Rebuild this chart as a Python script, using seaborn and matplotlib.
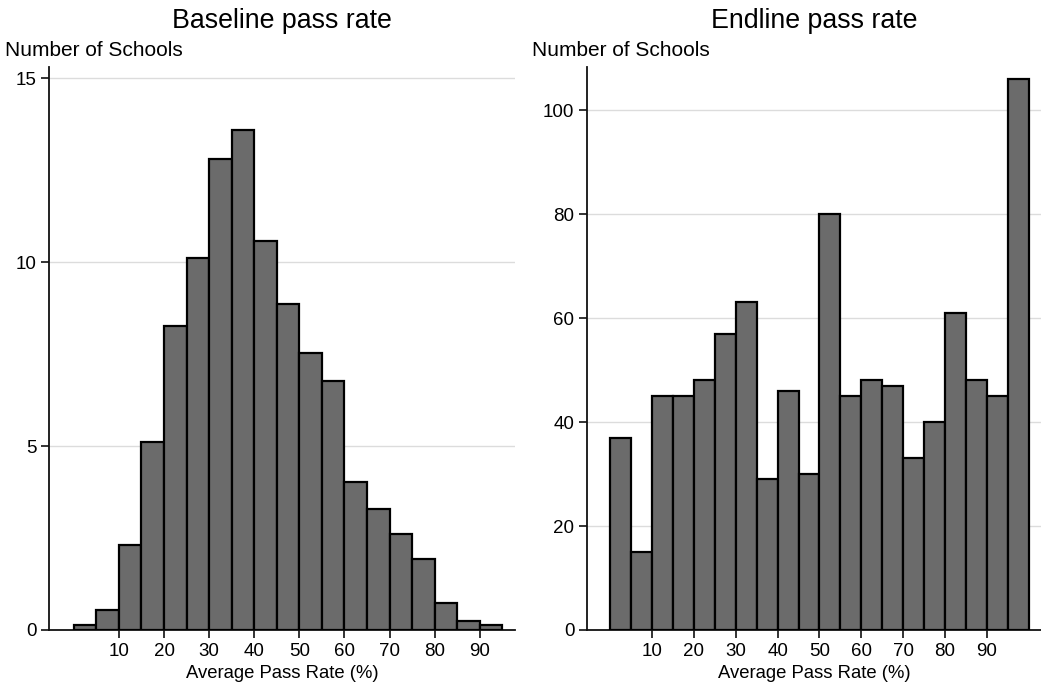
import numpy as np
import pandas as pd
import matplotlib
matplotlib.use("Agg")
import matplotlib.pyplot as plt
import seaborn as sns

# ---- data ----
baseline_bin_start = [0, 5, 10, 15, 20, 25, 30, 35, 40, 45, 50, 55, 60, 65, 70, 75, 80, 85, 90]
baseline_counts = [0.13, 0.55, 2.3, 5.1, 8.25, 10.1, 12.8, 13.6, 10.57, 8.85, 7.52,
                   6.77, 4.03, 3.3, 2.6, 1.93, 0.74, 0.24, 0.14]

endline_bin_start = [0, 5, 10, 15, 20, 25, 30, 35, 40, 45, 50, 55, 60, 65, 70, 75, 80, 85, 90, 95]
endline_counts = [37, 15, 45, 45, 48, 57, 63, 29, 46, 30, 80, 45, 48, 47, 33, 40, 61, 48, 45, 106]

bin_width = 5
x_ticks = [10, 20, 30, 40, 50, 60, 70, 80, 90]
baseline_yticks = [0, 5, 10, 15]
endline_yticks = [0, 20, 40, 60, 80, 100]

titles = ["Baseline pass rate", "Endline pass rate"]
y_label = "Number of Schools"
x_label = "Average Pass Rate (%)"

# ---- style ----
sns.set_style("white")
plt.rcParams["font.family"] = ["Liberation Sans", "DejaVu Sans"]
plt.rcParams["text.color"] = "black"
plt.rcParams["axes.labelcolor"] = "black"
plt.rcParams["xtick.color"] = "black"
plt.rcParams["ytick.color"] = "black"

W, H = 1041, 686
fig = plt.figure(figsize=(W / 100, H / 100), dpi=100)

def px_axes(x0, y0, x1, y1):
    return fig.add_axes([x0 / W, 1 - y1 / H, (x1 - x0) / W, (y1 - y0) / H])

ax1 = px_axes(49, 67, 515, 630)
ax2 = px_axes(587, 67, 1041, 630)

panels = [
    (ax1, baseline_bin_start, baseline_counts, baseline_yticks, (-5.5, 97.8), 15.3),
    (ax2, endline_bin_start, endline_counts, endline_yticks, (-5.5, 102.9), 108.3),
]

for (ax, starts, counts, yticks, xlim, ytop), title in zip(panels, titles):
    df = pd.DataFrame({"mid": np.asarray(starts) + bin_width / 2, "count": counts})
    edges = list(starts) + [starts[-1] + bin_width]
    sns.histplot(data=df, x="mid", weights="count", bins=edges, ax=ax,
                 color="#6b6b6b", alpha=1.0, edgecolor="black", linewidth=1.6,
                 zorder=3)
    ax.set_xlim(*xlim)
    ax.set_ylim(0, ytop)
    ax.set_xticks(x_ticks)
    ax.set_yticks(yticks)
    for yv in yticks[1:]:
        ax.axhline(yv, color="#dcdcdc", lw=1.0, zorder=1)
    ax.set_xlabel(x_label, fontsize=13.3, labelpad=4, color="black")
    ax.set_ylabel("")
    for s in ["top", "right"]:
        ax.spines[s].set_visible(False)
    for s in ["left", "bottom"]:
        ax.spines[s].set_color("#111111")
        ax.spines[s].set_linewidth(1.3)
    ax.tick_params(axis="both", direction="out", length=6, width=1.2,
                   color="#111111", labelcolor="black", labelsize=13.5, pad=3,
                   left=True, bottom=True)
    ax.grid(False)
    ax.set_facecolor("white")

# titles & y labels as figure text
fig.text(282 / W, 1 - 21 / H, titles[0], ha="center", va="center", fontsize=19.3, color="black")
fig.text(814 / W, 1 - 21 / H, titles[1], ha="center", va="center", fontsize=19.3, color="black")
fig.text(5 / W, 1 - 50 / H, y_label, ha="left", va="center", fontsize=15, color="black")
fig.text(532 / W, 1 - 51 / H, y_label, ha="left", va="center", fontsize=15, color="black")

fig.savefig("out.png", dpi=100, facecolor="white")
